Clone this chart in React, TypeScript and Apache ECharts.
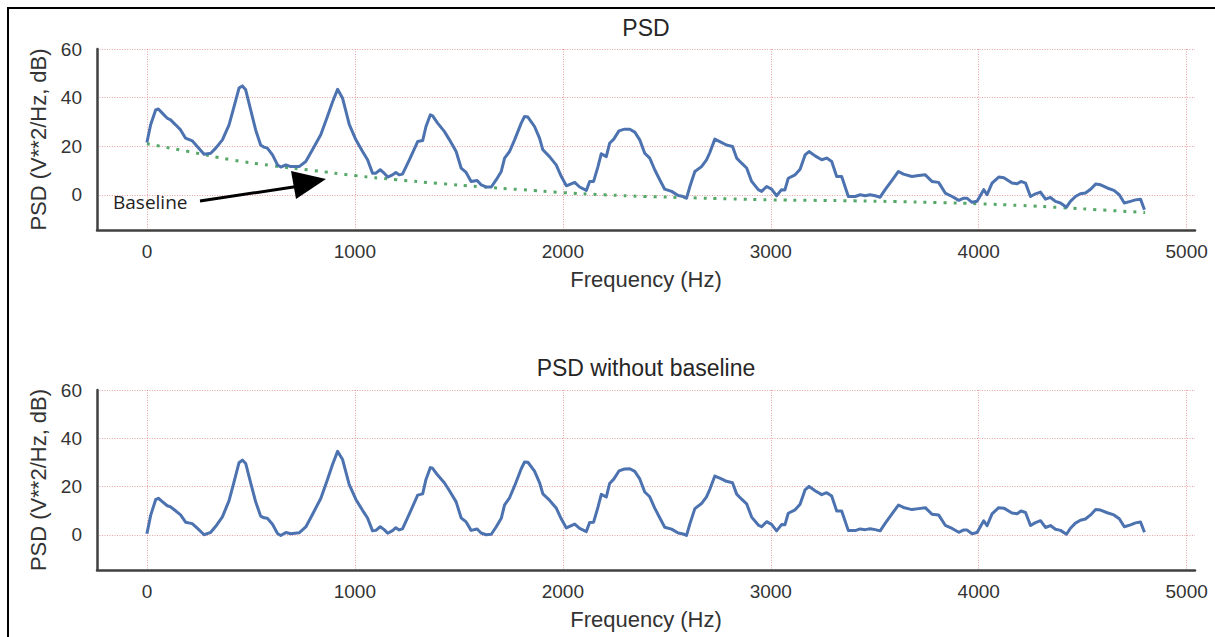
import React, { useEffect, useRef } from "react";
import * as echarts from "echarts";

// ---- data ----
const freqHz = [
  0, 18, 42, 55, 74, 98, 114, 138, 162, 186, 218, 242, 275, 307, 331, 363, 395, 419, 443, 459,
  475, 499, 523, 547, 563, 579, 604, 628, 644, 668, 692, 732, 764, 796, 836, 868, 893, 917, 941, 955,
  973, 1005, 1037, 1061, 1085, 1101, 1122, 1141, 1158, 1181, 1197, 1213, 1229, 1262, 1302, 1326, 1342, 1363, 1374, 1398,
  1431, 1455, 1487, 1511, 1535, 1559, 1588, 1607, 1631, 1656, 1680, 1704, 1720, 1744, 1768, 1800, 1816, 1832, 1864, 1888,
  1904, 1936, 1968, 1993, 2017, 2057, 2081, 2113, 2129, 2148, 2169, 2185, 2209, 2225, 2245, 2270, 2297, 2322, 2346, 2370,
  2394, 2418, 2442, 2466, 2490, 2523, 2555, 2579, 2595, 2611, 2635, 2667, 2691, 2707, 2731, 2755, 2787, 2816, 2836, 2860,
  2884, 2908, 2940, 2956, 2980, 3004, 3028, 3052, 3068, 3084, 3117, 3141, 3165, 3184, 3213, 3245, 3269, 3293, 3317, 3341,
  3373, 3406, 3430, 3454, 3478, 3502, 3526, 3550, 3582, 3614, 3638, 3679, 3711, 3743, 3775, 3807, 3839, 3872, 3904, 3928,
  3943, 3968, 3992, 4024, 4040, 4064, 4096, 4121, 4160, 4185, 4203, 4225, 4249, 4273, 4297, 4321, 4345, 4369, 4393, 4422,
  4441, 4465, 4489, 4513, 4538, 4562, 4586, 4618, 4650, 4676, 4700, 4730, 4754, 4778, 4797,
];

const psdDb = [
  21.5, 28.8, 34.9, 35.3, 33.6, 31.5, 30.8, 28.8, 26.7, 23.3, 22.2, 19.9, 16.7, 17.1, 19.2, 22.6, 28.8, 36.3, 43.9, 44.8,
  43.2, 34.9, 26.7, 20.5, 19.6, 19.2, 16.4, 12.3, 11.4, 12.3, 11.6, 11.6, 13.7, 18.5, 24.7, 32.2, 38.3, 43.4, 39.7, 35.0,
  29.0, 22.6, 17.8, 14.4, 8.9, 8.9, 10.3, 8.9, 7.3, 8.2, 9.2, 8.2, 8.5, 14.4, 21.9, 22.3, 28.1, 32.9, 32.5, 29.5,
  26.0, 22.6, 17.8, 11.0, 9.2, 5.5, 5.9, 4.1, 3.2, 3.2, 6.2, 9.6, 15.1, 17.8, 22.6, 29.5, 32.2, 32.0, 28.1, 23.3,
  18.5, 15.7, 12.3, 7.5, 3.7, 5.1, 3.2, 1.8, 5.5, 5.5, 11.6, 16.9, 15.7, 21.2, 22.9, 26.3, 27.0, 27.0, 25.8, 22.6,
  17.1, 15.1, 10.3, 6.2, 2.3, 1.4, -0.3, -0.7, -1.4, 3.4, 9.6, 11.6, 14.4, 17.4, 22.9, 21.9, 20.5, 19.9, 15.1, 13.0,
  11.0, 5.5, 2.1, 1.4, 3.4, 2.3, -0.4, 2.1, 2.0, 6.8, 8.2, 10.5, 16.4, 17.8, 16.0, 14.4, 15.1, 13.7, 7.5, 7.5,
  -0.7, -0.7, 0.0, -0.4, 0.0, -0.4, -1.0, 2.1, 5.8, 9.6, 8.5, 7.5, 7.9, 8.2, 5.5, 5.1, 0.7, -0.7, -2.3, -1.4,
  -1.4, -3.1, -2.7, 2.1, 0.0, 4.8, 7.3, 7.0, 4.8, 4.5, 5.5, 4.8, -0.7, 0.4, 1.1, -1.8, -1.1, -2.7, -3.4, -5.1,
  -2.7, -0.7, 0.4, 0.7, 2.3, 4.4, 4.1, 2.8, 1.8, 0.0, -3.4, -2.7, -2.1, -1.8, -6.2,
];

const psdNoBaselineDb = [
  0.5, 8.1, 14.6, 15.2, 13.8, 12.1, 11.6, 10.0, 8.3, 5.3, 4.7, 2.8, 0.1, 1.1, 3.6, 7.5, 14.2, 22.0, 29.9, 31.0,
  29.6, 21.6, 13.7, 7.8, 7.1, 6.9, 4.4, 0.6, -0.2, 1.0, 0.5, 0.9, 3.3, 8.5, 15.1, 22.9, 29.3, 34.6, 31.2, 26.6,
  20.8, 14.7, 10.2, 7.0, 1.7, 1.9, 3.4, 2.2, 0.7, 1.8, 3.0, 2.1, 2.5, 8.7, 16.5, 17.0, 23.0, 27.9, 27.6, 24.8,
  21.5, 18.3, 13.7, 7.1, 5.4, 1.9, 2.5, 0.8, 0.1, 0.3, 3.4, 6.9, 12.5, 15.4, 20.3, 27.4, 30.2, 30.1, 26.4, 21.7,
  17.0, 14.4, 11.2, 6.6, 2.9, 4.5, 2.7, 1.4, 5.2, 5.3, 11.5, 16.8, 15.7, 21.3, 23.1, 26.5, 27.3, 27.4, 26.3, 23.2,
  17.8, 15.8, 11.1, 7.1, 3.2, 2.4, 0.8, 0.4, -0.2, 4.6, 10.9, 13.0, 15.8, 18.9, 24.4, 23.5, 22.2, 21.6, 16.9, 14.8,
  12.9, 7.4, 4.1, 3.4, 5.5, 4.4, 1.7, 4.3, 4.2, 9.0, 10.4, 12.7, 18.7, 20.1, 18.3, 16.7, 17.5, 16.1, 9.9, 9.9,
  1.8, 1.8, 2.5, 2.2, 2.6, 2.2, 1.7, 4.8, 8.6, 12.4, 11.4, 10.5, 10.9, 11.3, 8.6, 8.3, 4.0, 2.7, 1.1, 2.1,
  2.1, 0.5, 1.0, 5.9, 3.8, 8.7, 11.3, 11.1, 9.1, 8.8, 9.9, 9.3, 3.9, 5.1, 5.9, 3.1, 3.9, 2.4, 1.9, 0.3,
  2.8, 4.9, 6.1, 6.6, 8.3, 10.5, 10.3, 9.2, 8.3, 6.7, 3.4, 4.2, 5.0, 5.4, 1.1,
];

const baselineFreqHz = [
  0, 200, 400, 600, 800, 1000, 1200, 1400, 1600, 1800, 2000, 2200, 2400, 2600, 2800, 3000, 3200, 3400, 3600, 3800,
  4000, 4200, 4400, 4600, 4800,
];
const baselineDb = [
  21.0, 17.8, 14.5, 12.0, 10.0, 7.9, 6.2, 4.7, 3.3, 2.1, 0.9, 0.0, -0.7, -1.2, -1.7, -2.1, -2.3, -2.5, -2.8, -3.2,
  -3.7, -4.4, -5.3, -6.3, -7.3,
];

const xTicks = [0, 1000, 2000, 3000, 4000, 5000];
const yTicks = [0, 20, 40, 60];

const titles = ["PSD", "PSD without baseline"];
const xName = "Frequency (Hz)";
const yName = "PSD (V**2/Hz, dB)";
const annotation = "Baseline";

// ---- styling ----
const BLUE = "#4c72b0";
const GREEN = "#55a868";
const GRID_COLOR = "rgba(214, 90, 90, 0.55)";
const AXIS_COLOR = "#404040";
const TEXT_COLOR = "#333333";
const FONT = "'Liberation Sans', Arial, sans-serif";

const X_MIN = -240;
const X_MAX = 5040;
const Y_MIN = -14.5;
const Y_MAX = 60;

function makeXAxis(gridIndex: number) {
  return {
    type: "value",
    gridIndex,
    min: X_MIN,
    max: X_MAX,
    name: xName,
    nameLocation: "middle",
    nameGap: 38,
    nameTextStyle: { fontFamily: FONT, fontSize: 22, color: TEXT_COLOR },
    axisLine: { show: true, onZero: false, lineStyle: { color: AXIS_COLOR, width: 2.5 } },
    axisTick: { show: false, customValues: xTicks },
    axisLabel: {
      customValues: xTicks,
      margin: 12,
      fontFamily: FONT,
      fontSize: 19,
      color: TEXT_COLOR,
      formatter: (v: number) => String(v),
    },
    splitLine: { show: true, lineStyle: { color: GRID_COLOR, type: [1, 1.5], width: 1 } },
  };
}

function makeYAxis(gridIndex: number) {
  return {
    type: "value",
    gridIndex,
    min: Y_MIN,
    max: Y_MAX,
    name: yName,
    nameLocation: "middle",
    nameGap: 47,
    nameTextStyle: { fontFamily: FONT, fontSize: 22, color: TEXT_COLOR },
    axisLine: { show: true, onZero: false, lineStyle: { color: AXIS_COLOR, width: 2.5 } },
    axisTick: { show: false, customValues: yTicks },
    axisLabel: {
      customValues: yTicks,
      margin: 15,
      fontFamily: FONT,
      fontSize: 19,
      color: TEXT_COLOR,
      formatter: (v: number) => String(v),
    },
    splitLine: { show: true, lineStyle: { color: GRID_COLOR, type: [1, 1.5], width: 1 } },
  };
}

export default function App() {
  const ref = useRef<HTMLDivElement>(null);

  useEffect(() => {
    if (!ref.current) return;
    const chart = echarts.init(ref.current, null, { renderer: "svg" });

    const top = freqHz.map((f, i) => [f, psdDb[i]]);
    const bottom = freqHz.map((f, i) => [f, psdNoBaselineDb[i]]);
    const base = baselineFreqHz.map((f, i) => [f, baselineDb[i]]);

    const option = {
      animation: false,
      backgroundColor: "#ffffff",
      grid: [
        { left: 97, top: 49, width: 1098, height: 181, containLabel: false },
        { left: 97, top: 390, width: 1098, height: 180, containLabel: false },
      ],
      xAxis: [makeXAxis(0), makeXAxis(1)],
      yAxis: [makeYAxis(0), makeYAxis(1)],
      series: [
        {
          type: "line",
          xAxisIndex: 0,
          yAxisIndex: 0,
          data: base,
          smooth: true,
          showSymbol: false,
          lineStyle: { color: GREEN, width: 3, type: [3, 7], cap: "butt" },
          z: 3,
        },
        {
          type: "line",
          xAxisIndex: 0,
          yAxisIndex: 0,
          data: top,
          showSymbol: false,
          lineStyle: { color: BLUE, width: 3, join: "round" },
          z: 4,
        },
        {
          type: "line",
          xAxisIndex: 1,
          yAxisIndex: 1,
          data: bottom,
          showSymbol: false,
          lineStyle: { color: BLUE, width: 3, join: "round" },
          z: 4,
        },
      ],
      graphic: [
        {
          type: "rect",
          shape: { x: 8, y: 8, width: 1220, height: 650 },
          style: { fill: "none", stroke: "#000000", lineWidth: 2 },
          z: 100,
        },
        {
          type: "text",
          x: 646,
          y: 28,
          style: {
            text: titles[0],
            fontFamily: FONT,
            fontSize: 23,
            fill: "#262626",
            textAlign: "center",
            textVerticalAlign: "middle",
          },
        },
        {
          type: "text",
          x: 646,
          y: 368,
          style: {
            text: titles[1],
            fontFamily: FONT,
            fontSize: 23,
            fill: "#262626",
            textAlign: "center",
            textVerticalAlign: "middle",
          },
        },
        {
          type: "text",
          x: 113,
          y: 202,
          style: {
            text: annotation,
            fontFamily: "'Open Sans', sans-serif",
            fontSize: 19,
            fill: "#1e1e1e",
            textAlign: "left",
            textVerticalAlign: "middle",
          },
          z: 50,
        },
        {
          type: "line",
          shape: { x1: 200, y1: 201, x2: 300, y2: 186 },
          style: { stroke: "#000000", lineWidth: 3 },
          z: 50,
        },
        {
          type: "polygon",
          shape: { points: [[291, 171], [326, 179], [296, 199]] },
          style: { fill: "#000000" },
          z: 50,
        },
      ],
    };

    chart.setOption(option as any);
    return () => chart.dispose();
  }, []);

  return (
    <div
      ref={ref}
      style={{ position: "fixed", left: 0, top: 0, width: 1215, height: 637 }}
    />
  );
}
